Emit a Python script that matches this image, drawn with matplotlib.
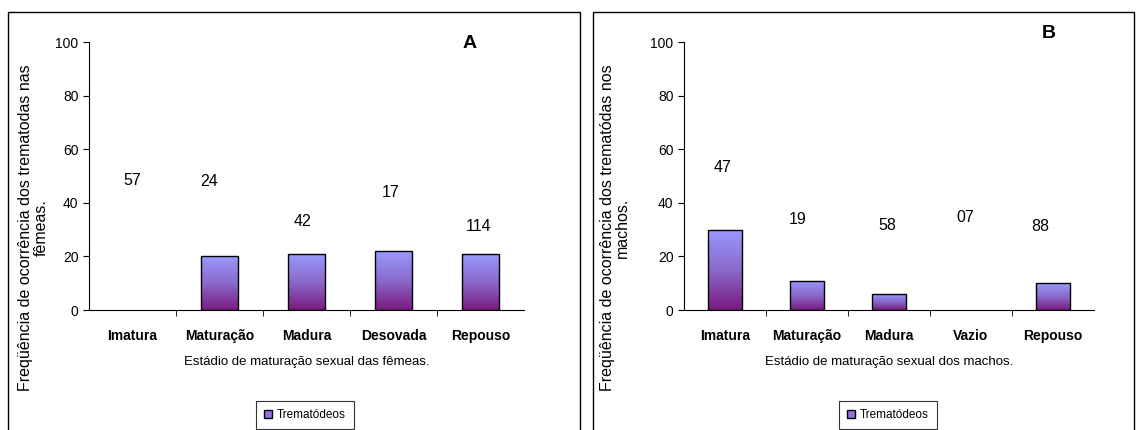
import numpy as np
import matplotlib
matplotlib.use("Agg")
import matplotlib.pyplot as plt
from matplotlib.patches import Rectangle, Patch

plt.rcParams['font.family'] = ['Liberation Sans Narrow', 'Liberation Sans', 'DejaVu Sans']

# dados
cat_femeas = ["Imatura", "Maturação", "Madura", "Desovada", "Repouso"]
freq_femeas = [0, 20, 21, 22, 21]
n_femeas = ["57", "24", "42", "17", "114"]
n_femeas_y = [48.5, 47.8, 33, 43.7, 31]
n_femeas_dx = [0, -0.12, -0.05, -0.03, -0.02]

cat_machos = ["Imatura", "Maturação", "Madura", "Vazio", "Repouso"]
freq_machos = [30, 11, 6, 0, 10]
n_machos = ["47", "19", "58", "07", "88"]
n_machos_y = [53, 33.6, 31.7, 34.7, 31]
n_machos_dx = [-0.03, -0.11, -0.02, -0.07, -0.16]

W, H = 1139, 430
fig = plt.figure(figsize=(W / 100, H / 100), dpi=100)

# caixas externas dos graficos
for x0, x1 in [(8, 580), (593, 1134)]:
    fig.patches.append(Rectangle((x0 / W, -0.01), (x1 - x0) / W, 1 - 12 / H + 0.01,
                                 transform=fig.transFigure, fill=False,
                                 edgecolor='black', linewidth=1.0))

grad = np.linspace(0, 1, 256).reshape(-1, 1)
cmap = matplotlib.colors.LinearSegmentedColormap.from_list(
    "trem", ["#7a1a80", "#8a6acb", "#9a9aff"])


def painel(rect, cats, vals, ns, ny, ndx, letra, letra_pos, xlabel, ylabel, ylab_x, leg_x):
    ax = fig.add_axes(rect)
    x = np.arange(len(cats))
    bars = ax.bar(x, vals, width=0.42, color='none', edgecolor='black', linewidth=1.0, zorder=3)
    for b in bars:
        if b.get_height() <= 0:
            b.set_linewidth(0)
            continue
        im = ax.imshow(grad, cmap=cmap, aspect='auto', origin='lower',
                       extent=[b.get_x(), b.get_x() + b.get_width(), 0, b.get_height()],
                       zorder=2)
        im.set_clip_path(b)
    for xi, t, yi, dx in zip(x, ns, ny, ndx):
        ax.text(xi + dx, yi, t, ha='center', va='center', fontsize=11.5)
    ax.set_xlim(-0.5, len(cats) - 0.5)
    ax.set_ylim(0, 100)
    ax.set_yticks(range(0, 101, 20))
    ax.set_xticks(x)
    ax.set_xticklabels(cats, fontweight='bold', fontsize=10)
    ax.set_xticks(np.arange(0.5, len(cats) - 1, 1), minor=True)
    ax.tick_params(axis='x', which='major', length=0, pad=14)
    ax.tick_params(axis='x', which='minor', length=4, direction='out')
    ax.tick_params(axis='y', length=4, labelsize=10)
    ax.spines['top'].set_visible(False)
    ax.spines['right'].set_visible(False)
    ax.set_xlabel(xlabel, fontsize=9.5, labelpad=9)
    fig.text(ylab_x / W, 1 - 228 / H, ylabel, rotation=90, ha='center', va='center',
             fontsize=11.5, multialignment='center', linespacing=1.05)
    fig.text(letra_pos[0] / W, 1 - letra_pos[1] / H, letra, fontweight='bold',
             fontsize=14, ha='center', va='center')
    leg = fig.legend(handles=[Patch(facecolor='#9370db', edgecolor='black', label='Trematódeos')],
                     loc='center', bbox_to_anchor=(leg_x / W, 1 - 415 / H),
                     fontsize=8.5, frameon=True, fancybox=False, edgecolor='black',
                     handlelength=0.7, handleheight=0.7, handletextpad=0.4, borderpad=0.7)
    leg.get_frame().set_linewidth(0.8)
    return ax


painel([89 / W, 1 - 310 / H, (524 - 89) / W, (310 - 42) / H], cat_femeas, freq_femeas,
       n_femeas, n_femeas_y, n_femeas_dx, "A", (470, 43),
       "Estádio de maturação sexual das fêmeas.",
       "Freqüência de ocorrência dos trematodas nas\nfêmeas.", 33, 305)

painel([684 / W, 1 - 310 / H, (1094 - 684) / W, (310 - 42) / H], cat_machos, freq_machos,
       n_machos, n_machos_y, n_machos_dx, "B", (1049, 33),
       "Estádio de maturação sexual dos machos.",
       "Freqüência de ocorrência dos trematódas nos\nmachos.", 615, 888)

fig.savefig("out.png", dpi=100)
